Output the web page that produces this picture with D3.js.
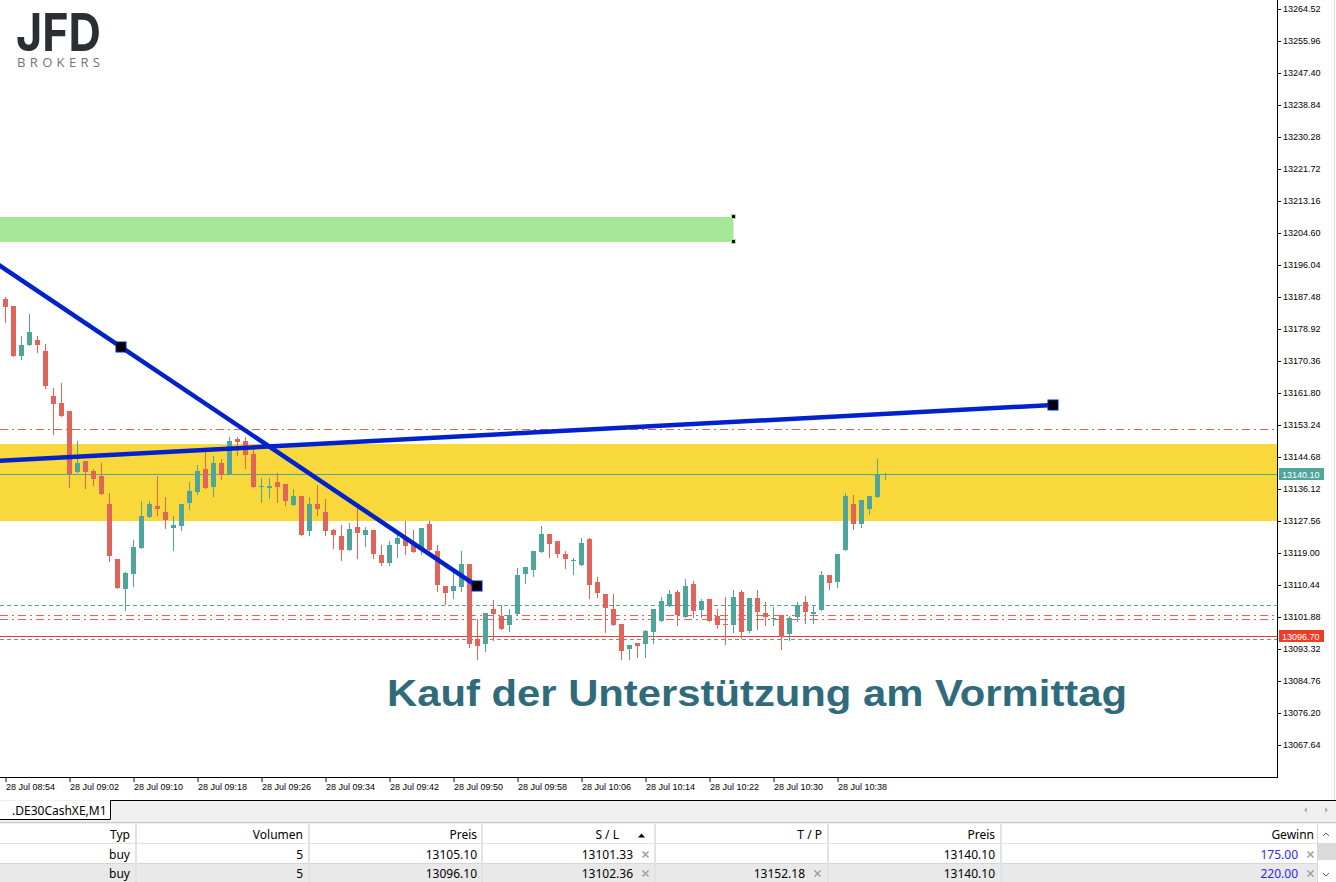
<!DOCTYPE html>
<html><head><meta charset="utf-8">
<script src="https://cdn.jsdelivr.net/npm/d3@7"></script>
<style>
html,body{margin:0;padding:0;background:#fff;overflow:hidden}
svg{display:block}
</style></head><body>
<script>
// ---------- DATA ----------
const openP = [13186.95,13185.07,13171.78,13174.64,13175.98,13173.04,13161.00,13159.13,13156.99,13140.75,
13143.61,13140.94,13139.60,13132.11,13117.40,13109.45,13113.47,13120.42,13128.71,13131.57,
13129.97,13125.77,13126.31,13132.46,13135.40,13141.47,13136.74,13143.08,13140.13,13149.50,
13148.96,13145.48,13136.74,13136.47,13137.99,13137.46,13131.92,13134.25,13124.97,13132.11,
13129.97,13125.15,13123.55,13119.89,13125.96,13123.90,13125.15,13118.47,13116.41,13121.49,
13123.01,13121.14,13119.89,13126.76,13119.54,13110.17,13108.92,13109.99,13116.06,13096.00,
13094.74,13104.02,13102.23,13099.82,13102.77,13113.47,13114.54,13119.35,13124.08,13122.21,
13118.73,13117.15,13115.87,13122.75,13111.24,13108.03,13104.02,13100.01,13093.40,13094.93,
13094.74,13097.95,13100.89,13104.91,13108.57,13101.96,13110.71,13103.84,13106.70,13102.15,
13100.00,13099.82,13108.57,13098.22,13106.96,13102.95,13101.55,13102.42,13097.42,13101.96,
13105.89,13102.77,13103.84,13113.12,13111.33,13119.89,13132.11,13126.84,13130.85,13134.06,
13140.00];
const highP = [13187.56,13185.07,13177.05,13182.93,13177.05,13174.91,13163.22,13164.48,13156.99,13148.96,
13143.61,13141.47,13143.08,13135.05,13117.40,13113.92,13122.48,13132.91,13132.91,13139.60,
13133.98,13128.90,13132.11,13137.99,13142.54,13146.55,13144.95,13144.15,13150.03,13150.03,
13150.03,13147.09,13139.06,13139.06,13140.40,13137.46,13136.12,13134.25,13133.98,13137.19,
13133.45,13125.50,13126.49,13127.03,13131.04,13125.96,13125.15,13121.14,13122.29,13124.08,
13127.56,13125.15,13125.69,13127.56,13121.14,13110.17,13114.00,13119.54,13116.06,13101.35,
13102.95,13106.43,13105.09,13104.02,13114.99,13115.26,13119.54,13126.22,13124.08,13122.21,
13119.54,13117.75,13123.01,13123.01,13112.58,13108.03,13108.03,13100.01,13094.39,13094.93,
13098.40,13104.02,13107.23,13109.10,13109.10,13112.05,13111.51,13106.70,13106.70,13104.02,
13107.23,13109.10,13109.10,13106.96,13109.10,13105.89,13104.56,13102.42,13102.15,13105.89,
13107.50,13105.09,13114.19,13113.12,13118.73,13135.05,13134.52,13133.18,13134.25,13144.15,
13140.32];
const lowP = [13180.88,13171.70,13170.90,13174.64,13172.85,13163.22,13150.92,13155.73,13136.74,13140.75,
13136.47,13137.27,13134.87,13116.94,13109.72,13103.75,13110.26,13120.42,13128.71,13129.25,
13125.77,13119.89,13125.24,13130.85,13134.87,13136.47,13134.33,13138.88,13140.13,13145.22,
13141.82,13136.74,13132.73,13133.80,13132.73,13131.92,13131.92,13123.90,13123.90,13129.25,
13123.90,13120.42,13117.21,13119.89,13117.75,13120.96,13117.75,13115.87,13115.87,13118.01,
13118.82,13119.35,13118.82,13119.89,13108.92,13105.44,13107.05,13108.92,13093.94,13090.73,
13092.87,13095.86,13098.75,13098.22,13102.77,13111.06,13112.93,13119.35,13118.01,13118.01,
13115.07,13113.47,13115.87,13107.05,13107.31,13097.95,13099.82,13090.73,13090.73,13091.26,
13091.26,13095.01,13100.89,13104.91,13099.82,13101.96,13101.96,13101.96,13100.89,13099.02,
13094.74,13097.95,13096.35,13097.95,13098.75,13099.82,13099.82,13093.40,13095.81,13100.89,
13100.36,13100.36,13103.84,13109.37,13109.99,13119.89,13125.50,13126.04,13129.52,13134.06,
13138.88];
const closeP = [13184.89,13171.78,13174.64,13178.20,13174.64,13163.67,13158.94,13155.73,13140.13,13143.08,
13140.75,13138.80,13134.87,13118.28,13109.72,13113.65,13120.61,13128.90,13132.11,13130.77,
13127.91,13126.49,13132.11,13135.59,13140.94,13136.47,13143.08,13139.95,13148.96,13148.69,
13145.22,13136.74,13136.84,13136.92,13136.66,13132.99,13134.25,13123.90,13132.11,13130.85,
13124.97,13123.90,13119.89,13125.42,13124.43,13125.15,13118.82,13116.41,13121.14,13123.01,
13120.96,13119.35,13125.69,13119.89,13110.52,13108.38,13110.17,13116.06,13094.74,13094.21,
13102.95,13102.77,13098.75,13102.34,13113.12,13115.26,13119.54,13124.08,13121.49,13118.82,
13117.48,13117.21,13121.68,13110.52,13108.38,13104.37,13099.82,13092.87,13094.39,13094.21,
13098.14,13104.02,13106.16,13108.03,13102.50,13110.17,13103.57,13106.16,13100.89,13099.82,
13099.93,13107.23,13097.95,13106.96,13103.30,13101.88,13101.61,13096.61,13101.61,13105.09,
13103.30,13103.22,13113.12,13111.06,13118.73,13134.25,13126.84,13133.18,13134.25,13140.10,
13140.10];

const timeTickIndex = [0,8,16,24,32,40,48,56,64,72,80,88,96,104];
const timeTickLabels = ["28 Jul 08:54","28 Jul 09:02","28 Jul 09:10","28 Jul 09:18","28 Jul 09:26",
  "28 Jul 09:34","28 Jul 09:42","28 Jul 09:50","28 Jul 09:58","28 Jul 10:06","28 Jul 10:14",
  "28 Jul 10:22","28 Jul 10:30","28 Jul 10:38"];
const priceTicks = [13264.52,13255.96,13247.40,13238.84,13230.28,13221.72,13213.16,13204.60,
  13196.04,13187.48,13178.92,13170.36,13161.80,13153.24,13144.68,13136.12,13127.56,13119.00,
  13110.44,13101.88,13093.32,13084.76,13076.20,13067.64];

const bidPrice = 13140.10;
const askPrice = 13096.70;

// zones
const supplyZone = [13208.88, 13202.19];   // green box (price top, bottom)
const supplyZoneEndIndex = 91;
const supportZone = [13148.24, 13127.64];  // yellow box

// trendlines [index, price]
const trendDown = [[14.44, 13174.11],[58.94, 13110.17]];
const trendUp = [[-0.69, 13143.69],[130.94, 13158.59]];

// orders
const orderType = ["buy","buy"];
const orderVolume = [5,5];
const orderOpen = [13105.10, 13096.10];
const orderSL = [13101.33, 13102.36];
const orderTP = [null, 13152.18];
const orderCurrent = [13140.10, 13140.10];
const orderProfit = [175.00, 220.00];
const tableHeaders = ["Typ","Volumen","Preis","S / L","T / P","Preis","Gewinn"];

const annotation = "Kauf der Unterstützung am Vormittag";
const symbolTab = ".DE30CashXE,M1";

// ---------- LAYOUT ----------
const W = 1336, H = 882;
const plotR = 1277, plotB = 777;
const colUp = "#4fa59a", colDn = "#e0645a";

const svg = d3.select("body").append("svg").attr("width", W).attr("height", H)
  .style("font-family", "'Liberation Sans', Arial, sans-serif");
svg.append("rect").attr("width", W).attr("height", H).attr("fill", "#fff");

const x = d3.scaleLinear().domain([0, 110]).range([5.5, 885.5]);
const y = d3.scaleLinear().domain([13264.52, 13067.64]).range([9, 745]);
const ry = p => Math.round(y(p));

svg.append("defs").append("clipPath").attr("id", "plot")
  .append("rect").attr("x", 0).attr("y", 0).attr("width", plotR).attr("height", plotB);
const plot = svg.append("g").attr("clip-path", "url(#plot)");

// zones
plot.append("rect").attr("x", -10).attr("y", ry(supplyZone[0]))
  .attr("width", x(supplyZoneEndIndex) + 10).attr("height", ry(supplyZone[1]) - ry(supplyZone[0]))
  .attr("fill", "#a6e898");
plot.append("rect").attr("x", -10).attr("y", ry(supportZone[0]))
  .attr("width", plotR + 20).attr("height", ry(supportZone[1]) - ry(supportZone[0]))
  .attr("fill", "#f9d83c");

// horizontal level lines
function hline(p, color, dash) {
  plot.append("line").attr("x1", 0).attr("x2", plotR)
    .attr("y1", ry(p) + 0.5).attr("y2", ry(p) + 0.5)
    .attr("stroke", color).attr("stroke-width", 1)
    .attr("stroke-dasharray", dash || null);
}
orderTP.forEach(p => { if (p != null) hline(p, "#e0645a", "8,4,2,4"); });
orderSL.forEach(p => hline(p, "#e0645a", "8,4,2,4"));
orderOpen.forEach(p => hline(p, "#4fa59a", "4,3"));
hline(bidPrice, "#4fa59a");
hline(askPrice, "#ef3c26");

// candles
const idx = d3.range(openP.length);
const cg = plot.append("g");
cg.selectAll("rect.wick").data(idx).join("rect").attr("class", "wick")
  .attr("x", i => x(i) - 0.5).attr("width", 1)
  .attr("y", i => ry(highP[i]))
  .attr("height", i => ry(lowP[i]) - ry(highP[i]) + 1)
  .attr("fill", i => closeP[i] >= openP[i] ? colUp : colDn);
cg.selectAll("rect.body").data(idx).join("rect").attr("class", "body")
  .attr("x", i => x(i) - 2.5).attr("width", 5)
  .attr("y", i => ry(Math.max(openP[i], closeP[i])))
  .attr("height", i => Math.max(1, ry(Math.min(openP[i], closeP[i])) - ry(Math.max(openP[i], closeP[i]))))
  .attr("fill", i => closeP[i] >= openP[i] ? colUp : colDn);

// trendlines
const blue = "#0022cc";
function extend(line, toI) {
  const [[i1, p1], [i2, p2]] = line;
  return p1 + (p2 - p1) * (toI - i1) / (i2 - i1);
}
plot.append("line")
  .attr("x1", x(-2)).attr("y1", y(extend(trendDown, -2)))
  .attr("x2", x(trendDown[1][0])).attr("y2", y(trendDown[1][1]))
  .attr("stroke", blue).attr("stroke-width", 4.5);
plot.append("line")
  .attr("x1", x(-2)).attr("y1", y(extend(trendUp, -2)))
  .attr("x2", x(trendUp[1][0])).attr("y2", y(trendUp[1][1]))
  .attr("stroke", blue).attr("stroke-width", 4.5);
[trendDown[0], trendDown[1], trendUp[1]].forEach(([i, p]) => {
  plot.append("rect").attr("x", Math.round(x(i)) - 5).attr("y", Math.round(y(p)) - 5)
    .attr("width", 10).attr("height", 10).attr("fill", "#000")
    .attr("stroke", blue).attr("stroke-width", 1);
});
// zone corner markers
[supplyZone[0], supplyZone[1]].forEach(p => {
  plot.append("rect").attr("x", Math.round(x(supplyZoneEndIndex)) - 2.5).attr("y", ry(p) - 2.5)
    .attr("width", 4).attr("height", 4).attr("fill", "#000")
    .attr("stroke", "#a6e898").attr("stroke-width", 1);
});

// annotation
plot.append("text").attr("x", 387).attr("y", 706)
  .attr("font-size", 36).attr("font-weight", "bold").attr("fill", "#2f6b7a")
  .attr("textLength", 740).attr("lengthAdjust", "spacingAndGlyphs")
  .style("font-family", "'Liberation Sans', Arial, sans-serif")
  .text(annotation);

// logo
const logo = svg.append("g");
logo.append("text").attr("x", 16).attr("y", 51).attr("font-size", 52).attr("font-weight", 700)
  .attr("fill", "#2b2f33").attr("textLength", 85).attr("lengthAdjust", "spacingAndGlyphs")
  .style("font-family", "Inter, 'Liberation Sans', sans-serif").text("JFD");
logo.append("text").attr("x", 17).attr("y", 67).attr("font-size", 13)
  .attr("fill", "#707478").attr("textLength", 83).attr("lengthAdjust", "spacing")
  .style("font-family", "'Open Sans', sans-serif").text("BROKERS");

// ---------- AXES ----------
svg.append("line").attr("x1", plotR + 0.5).attr("x2", plotR + 0.5).attr("y1", 0).attr("y2", plotB + 0.5)
  .attr("stroke", "#000");
svg.append("line").attr("x1", 0).attr("x2", plotR + 1).attr("y1", plotB + 0.5).attr("y2", plotB + 0.5)
  .attr("stroke", "#000");
svg.append("line").attr("x1", 1334.5).attr("x2", 1334.5).attr("y1", 0).attr("y2", 800)
  .attr("stroke", "#dcdcdc");

const yAxis = svg.append("g").attr("transform", `translate(${plotR},0)`)
  .call(d3.axisRight(y).tickValues(priceTicks).tickSize(4).tickPadding(2).tickFormat(d3.format(".2f")));
yAxis.select(".domain").remove();
yAxis.selectAll("text").attr("font-size", 9).attr("fill", "#000")
  .style("font-family", "'Liberation Sans', Arial, sans-serif");
yAxis.selectAll("line").attr("stroke", "#000");

const xAxis = svg.append("g").attr("transform", `translate(0,${plotB})`)
  .call(d3.axisBottom(x).tickValues(timeTickIndex).tickSize(5).tickFormat((d, k) => timeTickLabels[k]));
xAxis.select(".domain").remove();
xAxis.selectAll("text").attr("font-size", 9).attr("fill", "#000")
  .attr("text-anchor", "start").attr("x", 0).attr("y", 13).attr("dy", null)
  .style("font-family", "'Liberation Sans', Arial, sans-serif");
xAxis.selectAll("line").attr("stroke", "#000");

// price labels
function priceLabel(p, bg) {
  const yy = ry(p);
  svg.append("rect").attr("x", 1279).attr("y", yy - 6).attr("width", 45).attr("height", 12).attr("fill", bg);
  svg.append("text").attr("x", 1282).attr("y", yy + 3.5).attr("font-size", 9).attr("fill", "#fff")
    .text(d3.format(".2f")(p));
}
priceLabel(bidPrice, "#4fa59a");
priceLabel(askPrice, "#ef3c26");

// ---------- TERMINAL / TABLE ----------
const ui = "'Noto Sans', 'Open Sans', sans-serif";
svg.append("rect").attr("x", 0).attr("y", 800).attr("width", W).attr("height", 24).attr("fill", "#f0f0f0");
svg.append("line").attr("x1", 110).attr("x2", W).attr("y1", 800.5).attr("y2", 800.5).attr("stroke", "#000");
svg.append("rect").attr("x", 0).attr("y", 801).attr("width", 110).attr("height", 18).attr("fill", "#fff");
svg.append("path").attr("d", "M0,819.5H110.5V800").attr("fill", "none").attr("stroke", "#000");
svg.append("text").attr("x", 12).attr("y", 815).attr("font-size", 12).attr("fill", "#000")
  .style("font-family", ui).text(symbolTab);
svg.append("path").attr("d", "M1307,807l-3,3l3,3z").attr("fill", "#b0b0b0");
svg.append("path").attr("d", "M1325,807l3,3l-3,3z").attr("fill", "#b0b0b0");
svg.append("line").attr("x1", 0).attr("x2", W).attr("y1", 822.5).attr("y2", 822.5).attr("stroke", "#c8c8c8");

// header + rows
svg.append("rect").attr("x", 0).attr("y", 824).attr("width", W).attr("height", 20).attr("fill", "#fff");
svg.append("rect").attr("x", 0).attr("y", 844).attr("width", W).attr("height", 20).attr("fill", "#fff");
svg.append("rect").attr("x", 0).attr("y", 864).attr("width", W).attr("height", 18).attr("fill", "#e9e9e9");
svg.append("line").attr("x1", 0).attr("x2", W).attr("y1", 843.5).attr("y2", 843.5).attr("stroke", "#e3e3e3");
svg.append("line").attr("x1", 0).attr("x2", W).attr("y1", 863.5).attr("y2", 863.5).attr("stroke", "#d6d6d6");
const colSep = [136, 309, 482, 655, 828, 1001];
colSep.forEach(cx => {
  svg.append("rect").attr("x", cx - 1).attr("y", 824).attr("width", 2).attr("height", 58).attr("fill", "#e2e2e2");
});
const headRight = [130, 303, 477, 619, 822, 995, 1314];
tableHeaders.forEach((h, k) => {
  svg.append("text").attr("x", headRight[k]).attr("y", 839).attr("text-anchor", "end")
    .attr("font-size", 12).attr("fill", "#000").style("font-family", ui).text(h);
});
svg.append("path").attr("d", "M638,837.5l3.5,-4l3.5,4z").attr("fill", "#000");

const rowY = [859, 878];
const f2 = d3.format(".2f");
function cell(txt, xr, yy, color) {
  svg.append("text").attr("x", xr).attr("y", yy).attr("text-anchor", "end")
    .attr("font-size", 12).attr("fill", color || "#000").style("font-family", ui).text(txt);
}
function xMark(cx, cy) {
  svg.append("path").attr("d", `M${cx - 3},${cy - 3}L${cx + 3},${cy + 3}M${cx + 3},${cy - 3}L${cx - 3},${cy + 3}`)
    .attr("stroke", "#a0a0a0").attr("stroke-width", 1.6);
}
orderType.forEach((t, r) => {
  const yy = rowY[r];
  cell(t, 130, yy);
  cell(orderVolume[r], 303, yy);
  cell(f2(orderOpen[r]), 477, yy);
  cell(f2(orderSL[r]), 633, yy); xMark(645.5, yy - 4.5);
  if (orderTP[r] != null) { cell(f2(orderTP[r]), 805, yy); xMark(817.5, yy - 4.5); }
  cell(f2(orderCurrent[r]), 995, yy);
  cell(f2(orderProfit[r]), 1298, yy, "#2a2ae8"); xMark(1310.5, yy - 4.5);
});
// scrollbar
svg.append("rect").attr("x", 1317).attr("y", 824).attr("width", 19).attr("height", 58).attr("fill", "#fff");
svg.append("line").attr("x1", 1317.5).attr("x2", 1317.5).attr("y1", 824).attr("y2", 882).attr("stroke", "#d8d8d8");
svg.append("rect").attr("x", 1318).attr("y", 843).attr("width", 18).attr("height", 17).attr("fill", "#dadada");
svg.append("path").attr("d", "M1323,836l3,-3l3,3").attr("fill", "none").attr("stroke", "#606060");
svg.append("path").attr("d", "M1323,873l3,3l3,-3").attr("fill", "none").attr("stroke", "#606060");
</script>
</body></html>
